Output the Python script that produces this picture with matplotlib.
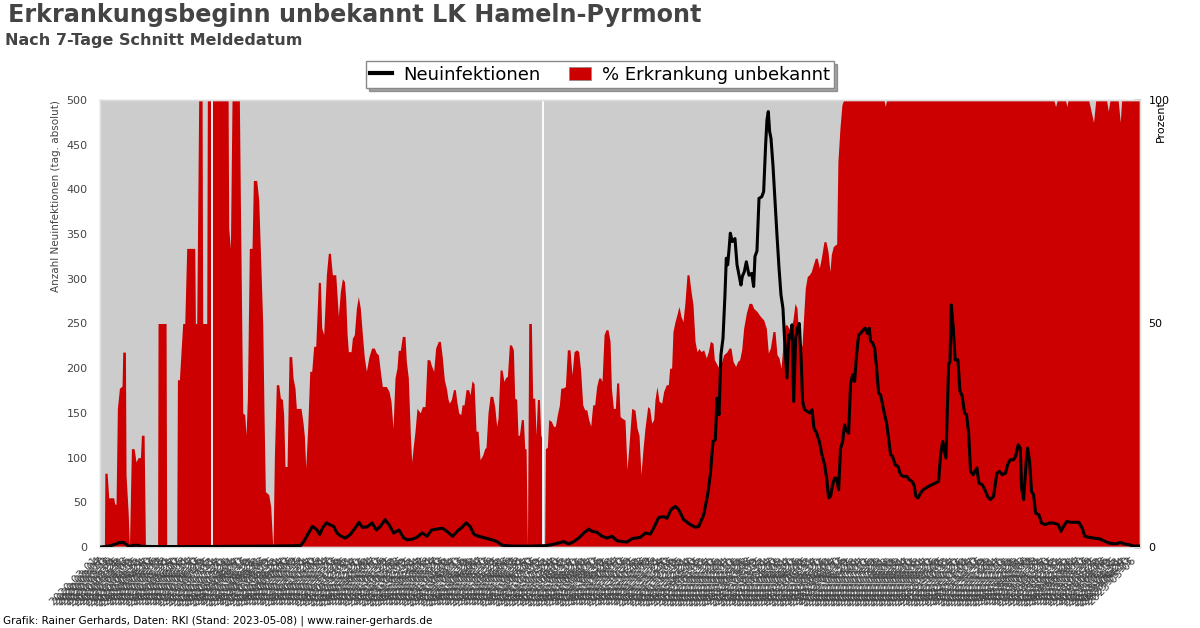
import matplotlib
matplotlib.use("Agg")
import matplotlib.pyplot as plt
import numpy as np
import pandas as pd
from matplotlib.lines import Line2D
from matplotlib.patches import Patch

start = pd.Timestamp("2020-03-01")
ende = pd.Timestamp("2023-05-08")

# % Erkrankungsbeginn unbekannt (Tage seit Start, Prozent)
tage_prozent = [0, 4.5, 5, 7.5, 9.3, 14.9, 16, 17.5, 19, 21.3, 24.2, 25, 28, 28.7, 31, 32.5, 34.7, 37.7, 39.9, 42.2,
                44.8, 45.9, 48.9, 50.4, 64, 64.5, 73.5, 74.2, 85.4, 86.2, 88.4, 89.9, 92.1, 94.4, 96.6, 105.6, 106.3,
                107.8, 110, 113.8, 114.5, 119, 119.7, 122.7, 125.7, 142.9, 143.6, 145.5, 147.3, 155.5, 157, 159.3,
                161.5, 163, 164.5, 166.7, 169.7, 171.2, 174.9, 177.2, 179.4, 181.7, 183.1, 184.6, 188.4, 190.6,
                192.9, 193.2, 194.7, 196.9, 199.6, 201.4, 203.7, 205.1, 206.6, 208.9, 211.1, 214.1, 215.6, 217.8,
                219.3, 224.5, 226.8, 228.3, 229.8, 232, 234.3, 236.5, 238.7, 241, 243.9, 246.2, 247.7, 249.9, 252.9,
                255.1, 257.4, 259.6, 263.4, 264.8, 266.3, 268.6, 270.8, 273.1, 274.5, 276.1, 277.5, 280.5, 282,
                284.2, 286.5, 288.7, 290.9, 293.2, 295.4, 297.7, 300.6, 303.6, 306.6, 308.8, 311.1, 313.3, 315.5,
                320, 323, 325.2, 327.5, 329.7, 331.9, 333.4, 335.7, 337.9, 340.9, 342.4, 344.6, 346.9, 348.4, 349.9,
                352.1, 354.3, 358.1, 360.3, 363.3, 365.6, 368.5, 370.8, 373, 375.2, 378.2, 380.5, 382.7, 384.9,
                387.2, 389.1, 390.6, 392.8, 395.1, 397.3, 398.8, 401, 403.3, 404.8, 407, 409.2, 412.2, 413.7, 415.9,
                418.2, 420.4, 422.7, 424.9, 427.9, 430.1, 431.6, 433.8, 436.1, 439.1, 441.3, 443.5, 445, 447.3,
                449.5, 451.7, 453.2, 455.5, 457.7, 460, 462.2, 463.7, 465.9, 467.4, 468.9, 471.1, 473.4, 474.9,
                476.4, 477.9, 479.4, 482.3, 483.8, 486.1, 487.6, 489.1, 491.3, 492.8, 494.3, 495, 497.2, 498, 500.2,
                501.7, 504.7, 507, 509.2, 511.4, 513.7, 515.2, 518.1, 520.4, 522.6, 525.6, 527.8, 530.1, 533.1,
                535.3, 537.5, 539.8, 542, 544.3, 546.5, 548.7, 551, 553.2, 555.4, 557.7, 559.9, 561.4, 563.7, 565.9,
                568.1, 570.4, 571.9, 574.1, 576.3, 577.8, 580.1, 581.6, 583.8, 587.1, 589.4, 591.6, 594.6, 598.3,
                600.6, 602.8, 605, 607.3, 609.5, 612.5, 614.7, 617, 619.2, 620.7, 622.9, 625.2, 628.2, 630.4, 633.4,
                635.6, 637.1, 639.3, 640.8, 643.1, 645.3, 647.5, 649.8, 652, 654.3, 656.5, 658.7, 661, 663.2, 665.5,
                667.7, 669.9, 672.2, 675.2, 678.1, 680.4, 682.6, 685.6, 687.1, 690.1, 692.3, 694.5, 697.5, 699.8,
                701.3, 703.5, 705.7, 708, 711, 713.2, 715.4, 717.7, 719.9, 722.9, 725.9, 728.9, 731.1, 734.8, 738.6,
                742.3, 745.3, 747.5, 749.8, 752.7, 755, 757.2, 759.5, 761.7, 763.9, 766.2, 768.4, 770.6, 772.9,
                775.1, 777.4, 779.6, 782.2, 785.2, 786.7, 788.9, 791.1, 793.4, 795.6, 797.8, 800.1, 802.3, 804.6,
                806.8, 809.8, 812, 814.3, 816.5, 818, 820.2, 822.5, 824, 825.4, 827.7, 829.9, 831.8, 877, 878.4,
                880, 1067, 1069, 1071, 1080, 1081.7, 1083, 1106, 1111.5, 1114, 1126, 1128, 1130, 1139, 1141.4, 1143,
                1163]
prozent = [0, 0, 16.5, 16.5, 11, 11, 9.6, 9.6, 31, 35.5, 36, 43.6, 43.6, 16, 8, 0, 22, 22, 19, 20,
           20, 25, 25, 0, 0, 50, 50, 0, 0, 37.4, 37.4, 42.6, 50, 50, 66.8, 66.8, 50,
           50, 100, 100, 50, 50, 100, 100, 100, 100, 71.3, 66.8, 100, 100, 71, 30,
           29.6, 25, 33.3, 66.8, 66.8, 82, 82, 77.6, 64, 49.7, 30, 12.4, 11.7, 9,
           0, 0, 20, 36.3, 36.3, 33.3, 33, 29.6, 18, 18, 42.6, 42.6, 37.8, 35.5,
           31, 31, 27.7, 24.7, 17.7, 26.6, 39.3, 39.3, 44.9, 44.9, 59.2, 59.2, 49, 47.5, 60.9,
           65.7, 65.7, 60.9, 60.9, 56.4, 51.6, 57.2, 60, 59.4, 55.7, 47.5, 43.7, 43.7, 46.7,
           47.5, 53.4, 56, 53.4, 47.5, 42.3, 39.3, 42.6, 44.5, 44.5, 43.4, 43, 39.3, 35.9,
           35.9, 34.8, 32.6, 26.6, 37.8, 40, 44, 44, 47.1, 47.1, 41.5, 37.8, 25, 19, 22,
           25.9, 31, 30, 31.4, 31.4, 41.9, 41.9, 40.4, 39.3, 44.5, 46, 46, 42.3, 37.4,
           35.5, 33, 32.2, 33, 35.2, 35.2, 32.6, 30, 29.6, 31.8, 31.8, 35.2, 35.2, 34, 37.2,
           36.5, 25.9, 25.9, 19.5, 20.6, 22, 22.3, 30, 33.7, 33.7, 31.4, 27, 28.8, 39.6,
           39.6, 37, 37.8, 38.2, 45.2, 45.2, 44.1, 33.3, 33, 25, 25, 28.5, 28.5, 22,
           22, 0, 50, 50, 33.3, 33.3, 25, 33, 33, 25, 24.3, 0, 0, 22, 22.3,
           28.5, 28.1, 27, 27, 29.6, 31.8, 35.5, 35.6, 35.9, 44.1, 44.1, 38.5, 43.7, 44.1,
           43.7, 39.3, 31.8, 30.7, 30.7, 28.5, 27, 31.8, 31.8, 35.9, 37.8, 37.8, 37, 47.5, 48.6,
           48.6, 46, 35.5, 31, 31, 36.7, 36.7, 29.2, 28.8, 28.4, 17.3, 22.9, 31, 30.6,
           26.6, 25, 16.2, 22, 26.6, 31.4, 31, 27.7, 28.5, 33, 35.9, 32.6, 32.2, 34.8, 36.3,
           36.3, 40, 40, 48.2, 50.4, 52, 53.8, 51.6, 50.4, 54.9, 60.9, 60.9, 57.2, 54.2, 46,
           43.7, 44.4, 43.7, 44.1, 42.3, 43.7, 46, 45.6, 41.9, 40.8, 40, 40.8, 43, 43.4,
           43.7, 44.5, 44.5, 41.5, 40.4, 41.5, 41.9, 44.1, 48.9, 52.3, 54.5, 54.5, 53.4, 52.7, 51.6,
           50.8, 48.9, 43.4, 44.5, 48.2, 48.2, 43, 42.3, 40, 45.2, 49.7, 49.7, 48.9, 48.9,
           50.8, 54.5, 53.4, 45, 45, 50.4, 57.9, 60.5, 60.9, 61.6, 63.1, 64.6, 64.6, 62.4,
           64.6, 68.3, 68.3, 66.1, 61.6, 65.4, 67.2, 67.6, 67.8, 86.2, 93.7, 98.9, 100, 100, 98.5,
           100, 100, 98.5, 100, 100, 98.5, 100, 100, 95, 100, 100, 97.5, 100, 100, 95, 100,
           100]

# Neuinfektionen 7-Tage Schnitt (Tage seit Start, Anzahl)
tage_faelle = [0, 5, 10, 15, 18, 21, 26, 28, 32, 38, 42, 46, 60, 120, 190, 224, 227.5, 232, 237.2, 240.2, 242.4,
               245.4, 249.1, 252.9, 256.6, 261.1, 264.8, 269.3, 274.1, 279.7, 284.9, 289.4, 293.2, 298.4, 304,
               308.8, 313.3, 318.5, 323, 328.2, 334.2, 339.4, 343.9, 349.8, 354.3, 360.3, 365.5, 370.7, 376.7,
               382.7, 387.9, 389.8, 394.3, 399.2, 404.8, 409.2, 413.7, 418.2, 423.4, 430.9, 438.3, 443.9, 449.5,
               460.7, 479.4, 498, 505.5, 512.9, 518.5, 524.1, 529.7, 535.3, 540.9, 546.5, 550.2, 555.8, 561.4, 567,
               572.6, 578.2, 583.8, 589.4, 595, 604.3, 609.9, 615.5, 619.2, 624.8, 630.4, 634.1, 638.6, 643.4,
               647.2, 652.8, 660.2, 665.8, 669.6, 675.2, 679.6, 682.6, 685.6, 688.2, 690.1, 692.3, 694.5, 696.8,
               699, 700.5, 702, 703.5, 705, 707.2, 710.2, 712.5, 714.7, 716.9, 718.4, 720.7, 722.9, 725.9, 728.9,
               731.1, 732.6, 734.8, 737.1, 740.1, 742.3, 744.5, 746, 747.5, 749, 750.5, 752.7, 754.2, 755.7, 757.2,
               759.5, 761.7, 763.9, 766.2, 768.4, 770.3, 772.1, 774, 775.9, 778.1, 780.3, 782.2, 784.4, 785.9,
               788.1, 791.1, 794.1, 796.4, 798.6, 801.6, 804.6, 807.5, 810.5, 812.8, 815, 817.2, 819.5, 821.7, 824,
               826.2, 828.4, 830.7, 832.9, 834.4, 837.4, 839.6, 841.9, 844.1, 846.3, 848.6, 850.8, 853.8, 856,
               858.3, 860.5, 862, 864.2, 866.5, 868.7, 871, 873.2, 875.4, 877.7, 879.9, 882.1, 884.4, 886.6, 889.6,
               892.6, 895.6, 898.6, 902.3, 905.3, 908.2, 910.5, 912.7, 915, 918, 920.9, 923.9, 926.9, 930.6, 934.4,
               938.1, 940.3, 942.6, 944.1, 946.3, 947.8, 949.3, 950.8, 952.3, 954.5, 956.7, 959.7, 962, 964.2,
               967.2, 969.4, 971.7, 973.9, 976.9, 981, 983.2, 986.9, 989.9, 992.9, 995.9, 999.6, 1003.3, 1006.3,
               1009.3, 1013, 1015.3, 1018.3, 1022, 1024.2, 1027.2, 1029.5, 1031, 1033.2, 1036.2, 1037.7, 1039.9,
               1042.1, 1044.4, 1046.6, 1050.3, 1053.3, 1057.1, 1061.5, 1066.8, 1072, 1075, 1078, 1081.7, 1085.4,
               1095.1, 1098.8, 1101.8, 1106.3, 1111.5, 1119, 1124.2, 1128.7, 1133.9, 1137.6, 1141.4, 1145.8,
               1151.1, 1156.3, 1161.9]
faelle = [0, 0.5, 1, 2.5, 3.7, 5, 5, 3.4, 0.7, 1.9, 1.9, 0.7, 0.5, 0.5, 1, 1.5, 6, 14, 23, 21, 19,
          14, 22, 27, 25, 23, 15.6, 12, 10, 14, 21, 27.6, 22, 22.4, 27,
          19, 23, 30.5, 25, 15.6, 19, 10, 8, 9, 11, 15.6, 12, 19, 20,
          21, 17.5, 15.6, 12, 17.5, 22, 27, 23, 14, 12, 10, 8, 6, 2,
          1, 1, 1.5, 2.6, 4.5, 6, 3.4, 6, 10, 15.6, 20, 17.5, 16.4, 12, 10,
          12, 7, 6, 5.6, 9.3, 10.8, 15.6, 14.5, 21, 33, 34, 32, 41.7, 45.5,
          41.7, 30.5, 25, 22, 23, 36, 58.5, 80.8, 118, 120, 166.5, 148, 215, 233.6,
          282, 323, 315.6, 332, 351, 341.6, 345, 315.6, 304.4, 293, 302.6, 308, 319, 304, 306,
          291.4, 325, 331, 390, 391.6, 397.5, 449.7, 477.6, 487, 464.6, 457, 427.3, 401.2, 375, 349,
          312, 282, 267, 222.4, 189, 237, 233.6, 248.5, 162.8, 233.6, 245, 250, 207, 163,
          153.5, 151.6, 149.8, 153.5, 133, 127.4, 118, 103.2, 92, 77, 54.8, 56.6, 69.7, 77, 77,
          64, 110.6, 118, 136.7, 131, 127.4, 183.3, 192.6, 185, 215, 237, 239, 242.8, 244.8,
          239, 244.8, 230, 228.3, 222.4, 200, 172, 170, 159, 148, 138.6, 121.8, 103.2, 101.3, 92,
          90, 80.8, 79, 79, 75.3, 73.4, 69.7, 56.6, 54.8, 60.4, 64, 66, 67.8, 69.7, 71.5,
          73.4, 103, 118, 110.6, 99.5, 151.6, 203.7, 207, 270.8, 244.8, 209.4, 209.4, 174, 170,
          149.8, 148, 127.4, 84.6, 80.8, 88.3, 71.5, 69.7, 64, 56.6, 53, 56.6, 82.7, 84.6,
          80.8, 82.7, 92, 97.6, 97.6, 101.3, 114.4, 110.6, 66, 53, 95.8, 110.6, 95.8,
          62.2, 58.5, 38, 36.1, 26.8, 25, 26.8, 26.8, 25, 17.5, 23, 28.7, 27.6,
          27.6, 21.2, 12, 10.8, 10, 9, 6.3, 4.5, 3.7, 3.7, 5.2, 3.4,
          2.6, 1.1, 1.1]

# Tage ohne Daten (weisse Luecken)
luecken = [125.3, 495.7]

datum_p = start + pd.to_timedelta(tage_prozent, unit="D")
datum_f = start + pd.to_timedelta(tage_faelle, unit="D")

grau = "#444444"
rot = "#cc0000"

fig = plt.figure(figsize=(12, 6.28), dpi=100)
ax = fig.add_axes([0.0833, 0.129, 0.8667, 0.7118])
ax.set_facecolor("#cccccc")
ax2 = ax.twinx()

ax.fill_between(datum_p, prozent, 0, color=rot, lw=0, zorder=2)
for t in luecken:
    ax.axvline(start + pd.Timedelta(days=t), color="white", lw=1.3, zorder=3)
ax2.plot(datum_f, faelle, color="black", lw=2.2, zorder=4)

ax.set_xlim(start - pd.Timedelta(days=0.5), ende + pd.Timedelta(days=0.5))
ax.set_ylim(0, 100)
ax2.set_ylim(0, 500)

# Prozent rechts, Anzahl links
ax.yaxis.tick_right()
ax.yaxis.set_label_position("right")
ax2.yaxis.tick_left()
ax2.yaxis.set_label_position("left")

ax.set_yticks(np.arange(0, 101, 10))
ax.set_yticklabels(["0" if v == 0 else ("50" if v == 50 else ("100" if v == 100 else "")) for v in range(0, 101, 10)])
ax.tick_params(axis="y", direction="in", length=4, width=1, colors="black", labelsize=8, pad=6)
ax.set_ylabel("Prozent", fontsize=8, loc="top", color="black", labelpad=-10)

ax2.set_yticks(np.arange(0, 501, 50))
ax2.tick_params(axis="y", length=0, labelsize=8, labelcolor=grau, pad=9)
ax2.set_ylabel("Anzahl Neuinfektionen (tag. absolut)", fontsize=7.5, loc="top", color=grau, labelpad=4)

xt = pd.date_range(start, ende, freq="3D")
ax.set_xticks(xt)
ax.set_xticklabels([d.strftime("%Y-%m-%d") for d in xt], rotation=45, ha="right", fontsize=8, color=grau)
ax.tick_params(axis="x", length=0, pad=6)

for a in (ax, ax2):
    for s in a.spines.values():
        s.set_color("#dddddd")
        s.set_linewidth(1)

fig.text(0.0067, 0.995, "Erkrankungsbeginn unbekannt LK Hameln-Pyrmont", fontsize=17.2, fontweight="bold",
         color=grau, va="top", ha="left")
fig.text(0.0045, 0.948, "Nach 7-Tage Schnitt Meldedatum", fontsize=11.5, fontweight="bold",
         color=grau, va="top", ha="left")
fig.text(0.0025, 0.011, "Grafik: Rainer Gerhards, Daten: RKI (Stand: 2023-05-08) | www.rainer-gerhards.de",
         fontsize=7.5, color="black", va="center", ha="left")

handles = [Line2D([0], [0], color="black", lw=3),
           Patch(facecolor=rot, edgecolor="#888888", lw=0.5)]
leg = fig.legend(handles, ["Neuinfektionen", "% Erkrankung unbekannt"], loc="center",
                 bbox_to_anchor=(0.5, 0.881), ncol=2, fontsize=13, frameon=True, fancybox=False,
                 shadow=True, borderpad=0.25, handlelength=1.2, handletextpad=0.6, columnspacing=1.6)
leg.get_frame().set_edgecolor("#888888")
leg.get_frame().set_linewidth(1)

fig.savefig("out.png", dpi=100)
